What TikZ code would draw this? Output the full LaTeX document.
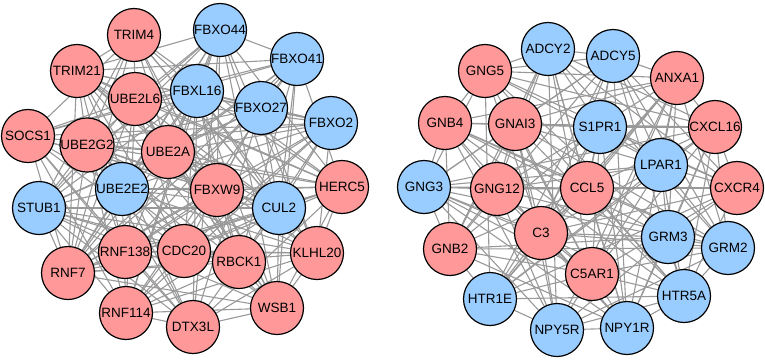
\documentclass[tikz,border=0pt]{standalone}
\usepackage{fontspec}
\setmainfont{Liberation Sans}
\usetikzlibrary{backgrounds}
\definecolor{genepink}{HTML}{FF9999}
\definecolor{geneblue}{HTML}{99CCFF}
\definecolor{linkgray}{HTML}{999999}
\tikzset{
    x=1pt, y=-1pt, % one unit is one pixel of the figure, y grows downwards
    gene/.style={circle, draw=black, line width=1.2pt, minimum size=53pt, inner sep=0pt,
        font=\fontsize{13.5}{14}\selectfont}, % sets the properties for each gene node
    link/.style={draw=linkgray, line width=1.1pt}, % interaction lines
}

\begin{document}
\begin{tikzpicture}[
                                up/.style={gene, fill=genepink},
                                down/.style={gene, fill=geneblue},
                            ]
                            \useasboundingbox (0,0) rectangle (765,360);
                            % left cluster
                            \node[up] (TRIM4) at (134,35) {TRIM4};
                            \node[down] (FBXO44) at (220,30) {FBXO44};
                            \node[down] (FBXO41) at (297,59) {FBXO41};
                            \node[up] (TRIM21) at (77,71) {TRIM21};
                            \node[down] (FBXL16) at (197,91) {FBXL16};
                            \node[up] (UBE2L6) at (135,99) {UBE2L6};
                            \node[down] (FBXO27) at (261,108) {FBXO27};
                            \node[down] (FBXO2) at (331,123) {FBXO2};
                            \node[up] (SOCS1) at (28,136) {SOCS1};
                            \node[up] (UBE2G2) at (87,145) {UBE2G2};
                            \node[up] (UBE2A) at (168,152) {UBE2A};
                            \node[down] (UBE2E2) at (122,189) {UBE2E2};
                            \node[up] (FBXW9) at (217,190) {FBXW9};
                            \node[up] (HERC5) at (342,187) {HERC5};
                            \node[down] (STUB1) at (39,208) {STUB1};
                            \node[down] (CUL2) at (279,208) {CUL2};
                            \node[up] (RNF138) at (125,252) {RNF138};
                            \node[up] (CDC20) at (184,251) {CDC20};
                            \node[up] (RBCK1) at (239,262) {RBCK1};
                            \node[up] (KLHL20) at (317,253) {KLHL20};
                            \node[up] (RNF7) at (68,273) {RNF7};
                            \node[up] (RNF114) at (126,313) {RNF114};
                            \node[up] (DTX3L) at (193,327) {DTX3L};
                            \node[up] (WSB1) at (277,308) {WSB1};
                            % right cluster
                            \node[down] (ADCY2) at (548,49) {ADCY2};
                            \node[down] (ADCY5) at (613,56) {ADCY5};
                            \node[up] (GNG5) at (485,71) {GNG5};
                            \node[up] (ANXA1) at (677,78) {ANXA1};
                            \node[up] (GNB4) at (445,123) {GNB4};
                            \node[up] (GNAI3) at (515,124) {GNAI3};
                            \node[down] (S1PR1) at (600,127) {S1PR1};
                            \node[up] (CXCL16) at (715,127) {CXCL16};
                            \node[down] (LPAR1) at (661,165) {LPAR1};
                            \node[down] (GNG3) at (424,187) {GNG3};
                            \node[up] (GNG12) at (497,189) {GNG12};
                            \node[up] (CCL5) at (587,188) {CCL5};
                            \node[up] (CXCR4) at (737,188) {CXCR4};
                            \node[up] (C3) at (541,233) {C3};
                            \node[down] (GRM3) at (668,237) {GRM3};
                            \node[down] (GRM2) at (728,248) {GRM2};
                            \node[up] (GNB2) at (450,249) {GNB2};
                            \node[up] (C5AR1) at (592,274) {C5AR1};
                            \node[down] (HTR1E) at (490,299) {HTR1E};
                            \node[down] (HTR5A) at (684,296) {HTR5A};
                            \node[down] (NPY5R) at (557,330) {NPY5R};
                            \node[down] (NPY1R) at (627,328) {NPY1R};
                            % interactions, drawn behind the genes
                            \begin{pgfonlayer}{background}
                            \foreach \a [count=\i] in {TRIM4,FBXO44,FBXO41,TRIM21,FBXL16,UBE2L6,FBXO27,FBXO2,SOCS1,UBE2G2,UBE2A,UBE2E2,FBXW9,HERC5,STUB1,CUL2,RNF138,CDC20,RBCK1,KLHL20,RNF7,RNF114,DTX3L,WSB1}
                              \foreach \b [count=\j] in {TRIM4,FBXO44,FBXO41,TRIM21,FBXL16,UBE2L6,FBXO27,FBXO2,SOCS1,UBE2G2,UBE2A,UBE2E2,FBXW9,HERC5,STUB1,CUL2,RNF138,CDC20,RBCK1,KLHL20,RNF7,RNF114,DTX3L,WSB1}{
                                \pgfmathtruncatemacro\r{mod(\i*\j*7+\i*3+\j*5,10)}
                                \ifnum\j>\i \ifnum\r<7 \draw[link] (\a) -- (\b); \fi\fi
                              }
                            \foreach \a [count=\i] in {ADCY2,ADCY5,GNG5,ANXA1,GNB4,GNAI3,S1PR1,CXCL16,LPAR1,GNG3,GNG12,CCL5,CXCR4,C3,GRM3,GRM2,GNB2,C5AR1,HTR1E,HTR5A,NPY5R,NPY1R}
                              \foreach \b [count=\j] in {ADCY2,ADCY5,GNG5,ANXA1,GNB4,GNAI3,S1PR1,CXCL16,LPAR1,GNG3,GNG12,CCL5,CXCR4,C3,GRM3,GRM2,GNB2,C5AR1,HTR1E,HTR5A,NPY5R,NPY1R}{
                                \pgfmathtruncatemacro\r{mod(\i*\j*5+\i*7+\j*3,10)}
                                \ifnum\j>\i \ifnum\r<7 \draw[link] (\a) -- (\b); \fi\fi
                              }
                            \end{pgfonlayer}
                        \end{tikzpicture}
\end{document}
